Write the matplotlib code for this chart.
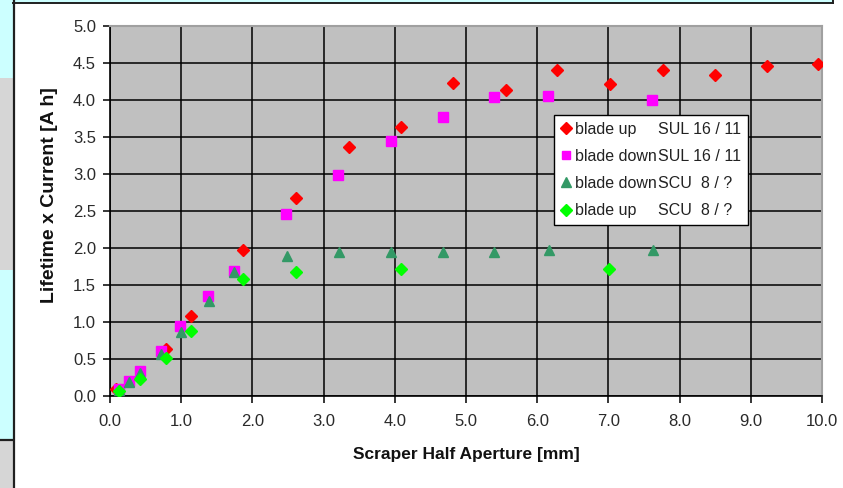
import matplotlib
matplotlib.use("Agg")
import matplotlib.pyplot as plt
from matplotlib.patches import Rectangle
from matplotlib.lines import Line2D

# ---- data ----
up_sul_x = [0.09, 0.79, 1.14, 1.87, 2.61, 3.36, 4.09, 4.82, 5.56, 6.28, 7.02, 7.77, 8.50, 9.23, 9.95]
up_sul_y = [0.10, 0.63, 1.08, 1.97, 2.68, 3.36, 3.64, 4.23, 4.14, 4.41, 4.21, 4.40, 4.34, 4.46, 4.48]

down_sul_x = [0.12, 0.26, 0.42, 0.71, 0.99, 1.38, 1.74, 2.47, 3.20, 3.94, 4.67, 5.40, 6.15, 7.61]
down_sul_y = [0.10, 0.20, 0.34, 0.61, 0.95, 1.35, 1.69, 2.46, 2.98, 3.45, 3.77, 4.04, 4.05, 4.00]

down_scu_x = [0.12, 0.26, 0.42, 0.71, 1.00, 1.39, 1.74, 2.48, 3.21, 3.94, 4.67, 5.40, 6.16, 7.62]
down_scu_y = [0.08, 0.19, 0.31, 0.57, 0.87, 1.28, 1.67, 1.89, 1.94, 1.94, 1.95, 1.95, 1.97, 1.97]

up_scu_x = [0.12, 0.42, 0.78, 1.14, 1.87, 2.61, 4.09, 7.01]
up_scu_y = [0.07, 0.23, 0.52, 0.88, 1.58, 1.68, 1.72, 1.72]

legend_names = ["blade up", "blade down", "blade down", "blade up"]
legend_tags = ["SUL 16 / 11", "SUL 16 / 11", "SCU  8 / ?", "SCU  8 / ?"]

x_ticks = [0, 1, 2, 3, 4, 5, 6, 7, 8, 9, 10]
y_ticks = [0.0, 0.5, 1.0, 1.5, 2.0, 2.5, 3.0, 3.5, 4.0, 4.5, 5.0]

# ---- figure ----
W, H = 843, 488
plt.rcParams['font.family'] = ['Liberation Sans', 'DejaVu Sans']
fig = plt.figure(figsize=(W / 100, H / 100), dpi=100)
fig.patch.set_facecolor('white')

def px_rect(x0, y0, x1, y1, color):
    fig.patches.append(Rectangle((x0 / W, 1 - y1 / H), (x1 - x0) / W, (y1 - y0) / H,
                                 transform=fig.transFigure, facecolor=color,
                                 edgecolor='none', zorder=0))

def px_line(x0, y0, x1, y1, color='black', lw=1.5):
    fig.lines.append(Line2D([x0 / W, x1 / W], [1 - y0 / H, 1 - y1 / H],
                            transform=fig.transFigure, color=color, lw=lw, zorder=1))

# decorative screenshot edges
px_rect(0, 0, 13, 78, '#CCFFFF')
px_rect(0, 78, 13, 270, '#D6D6D6')
px_rect(0, 270, 13, 440, '#CCFFFF')
px_rect(0, 440, 13, 488, '#D6D6D6')
px_rect(13, 0, 833, 3, '#CCFFFF')
px_line(13.5, 0, 13.5, 488, '#202020', 1.6)
px_line(0, 440, 13, 440, '#202020', 1.6)
px_line(13, 3, 833, 3, '#202020', 1.4)
px_line(833, 0, 833, 3, '#202020', 1.4)

ax = fig.add_axes([110 / W, 1 - 396 / H, 712 / W, 370 / H])
ax.set_facecolor('#C0C0C0')
ax.set_xlim(0, 10)
ax.set_ylim(0, 5)
ax.set_xticks(x_ticks)
ax.set_yticks(y_ticks)
ax.set_xticklabels([f"{v:.1f}" for v in x_ticks])
ax.set_yticklabels([f"{v:.1f}" for v in y_ticks])
ax.grid(True, color='black', lw=1.1, zorder=1)
ax.set_axisbelow(True)
for s in ['top', 'right']:
    ax.spines[s].set_color('#A0A0A0')
    ax.spines[s].set_linewidth(1.5)
for s in ['left', 'bottom']:
    ax.spines[s].set_color('black')
    ax.spines[s].set_linewidth(1.2)
ax.tick_params(direction='out', length=5, width=1.1, color='black',
               labelsize=12, labelcolor='#2a2a2a')
ax.tick_params(axis='y', pad=5)
ax.tick_params(axis='x', pad=8)

h1, = ax.plot(up_sul_x, up_sul_y, ls='none', marker='D', ms=6.5, color='#FF0000', zorder=3)
h2, = ax.plot(down_sul_x, down_sul_y, ls='none', marker='s', ms=6.5, color='#FF00FF', zorder=4)
h3, = ax.plot(down_scu_x, down_scu_y, ls='none', marker='^', ms=7.5, color='#339966', zorder=5)
h4, = ax.plot(up_scu_x, up_scu_y, ls='none', marker='D', ms=6.5, color='#00FF00', zorder=6)

blank = Line2D([], [], ls='none', marker=None)
handles = [h1, h2, h3, h4] + [blank] * 4
labels = legend_names + legend_tags
leg = ax.legend(handles, labels, ncol=2, loc='upper left',
                bbox_to_anchor=((554 - 110) / 712, (396 - 115) / 370),
                fontsize=11.5, frameon=True, fancybox=False, framealpha=1,
                edgecolor='black', facecolor='white', handlelength=0.6,
                handletextpad=0.3, columnspacing=-0.8, labelspacing=0.76,
                borderpad=0.42, borderaxespad=0, markerscale=0.95)
leg.get_frame().set_linewidth(1.0)
leg.set_zorder(10)
for t in leg.get_texts():
    t.set_color('#222222')

fig.text(466 / W, 1 - 455 / H, "Scraper Half Aperture [mm]", ha='center', va='center',
         fontsize=12.5, fontweight='bold', color='#111111')
fig.text(50 / W, 1 - 195 / H, "Lifetime x Current [A h]", ha='center', va='center',
         rotation=90, fontsize=14, fontweight='bold', color='#111111')

fig.savefig('out.png', dpi=100)
